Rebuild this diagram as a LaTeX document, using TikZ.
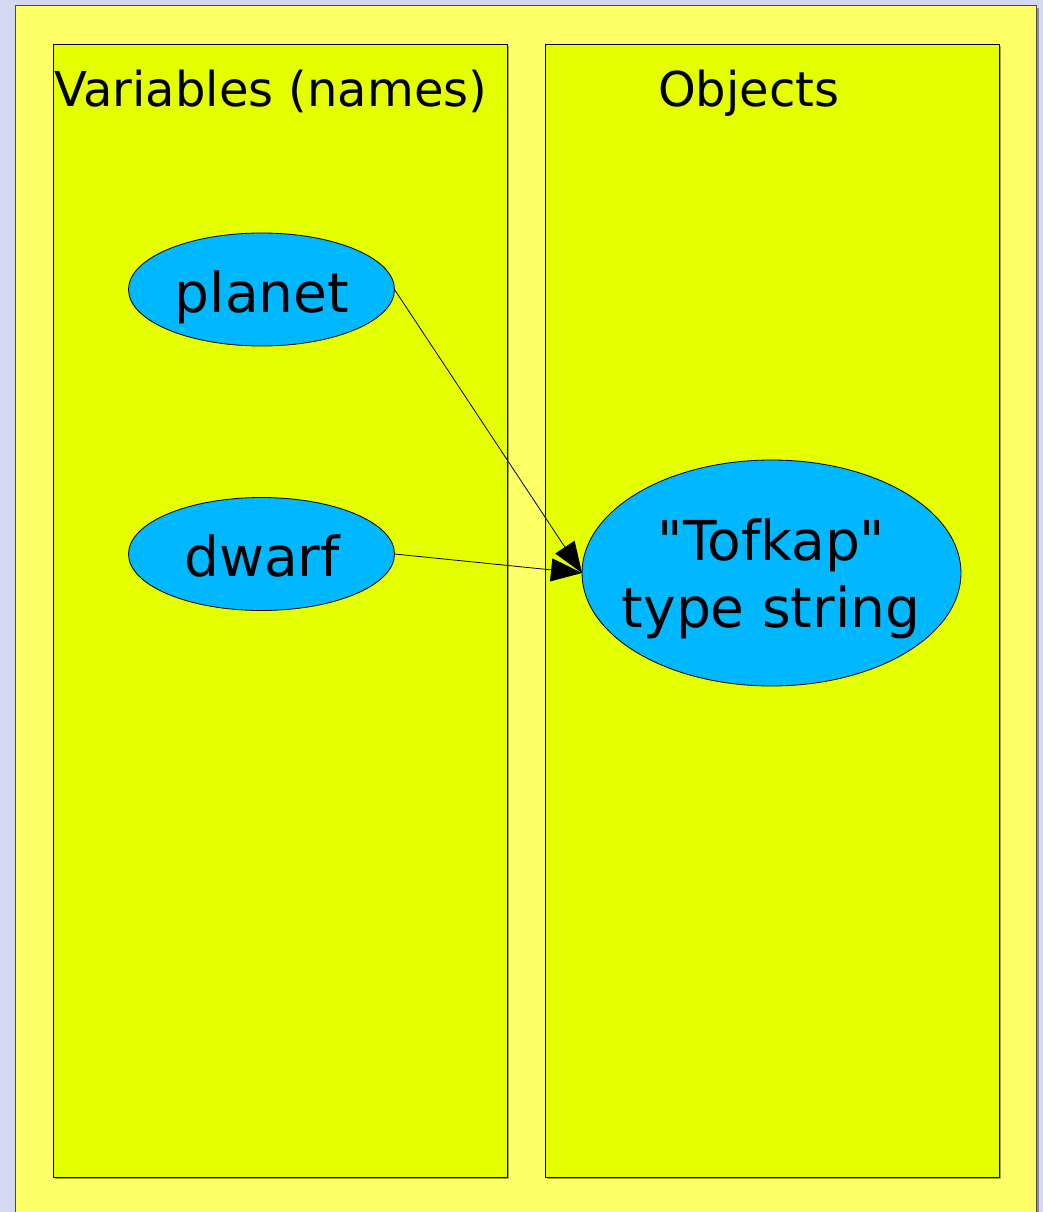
\documentclass[tikz,border=0pt]{standalone}
\usepackage{fontspec}
\setmainfont{DejaVu Sans}
\usetikzlibrary{shapes.geometric,arrows.meta}
\definecolor{pagebg}{RGB}{212,216,240}
\definecolor{sheet}{RGB}{255,255,102}
\definecolor{panel}{RGB}{228,255,0}
\definecolor{bubble}{RGB}{0,184,255}
\tikzset{
  sheetbox/.style={draw=black!70, fill=sheet, line width=1pt},
  panelbox/.style={rectangle, draw=black, fill=panel, line width=0.8pt,
    anchor=north west, inner sep=0pt, outer sep=0pt},
  shade box/.style={fill=black, fill opacity=0.35, draw=none},
  bubblenode/.style={ellipse, draw=black, fill=bubble, line width=0.8pt,
    inner sep=0pt, outer sep=0pt},
  coltitle/.style={font=\fontsize{48}{56}\selectfont, anchor=base west, inner sep=0pt},
  bubbletext/.style={font=\fontsize{55}{64}\selectfont, anchor=base, inner sep=0pt},
  refarrow/.style={-{Triangle[length=31pt,width=23pt]}, line width=0.8pt}
}
\begin{document}
\begin{tikzpicture}[x=1pt,y=-1pt]
  \useasboundingbox (0,0) rectangle (1043,1212);
  \fill[pagebg] (0,0) rectangle (1043,1212);

  % sheet with a light drop shadow
  \fill[shade box] (17.5,8) rectangle (1038.5,1216);
  \draw[sheetbox] (15.5,6) rectangle (1036.5,1216);

  % the two columns
  \fill[shade box] (55,46) rectangle (509,1179);
  \fill[shade box] (547,46) rectangle (1001,1179);
  \node[panelbox, minimum width=454pt, minimum height=1133pt] (vars) at (53,44) {};
  \node[panelbox, minimum width=454pt, minimum height=1133pt] (objs) at (545,44) {};

  \node[coltitle] (varstitle) at (54,107) {Variables (names)};
  \node[coltitle] (objstitle) at (658,107) {Objects};

  % names
  \node[bubblenode, minimum width=266pt, minimum height=113pt] (planet) at (261.5,289.5) {};
  \node[bubbletext] (planettext) at (262,312) {planet};
  \node[bubblenode, minimum width=266pt, minimum height=113pt] (dwarf) at (261.5,554) {};
  \node[bubbletext] (dwarftext) at (262,576.5) {dwarf};

  % the object they both refer to
  \node[bubblenode, minimum width=379pt, minimum height=226pt] (obj) at (771.5,573) {};
  \node[bubbletext] (objname) at (771.5,560) {\textquotedbl Tofkap\textquotedbl};
  \node[bubbletext] (objtype) at (771,627) {type string};

  \draw[refarrow] (planet.east) -- (obj.west);
  \draw[refarrow] (dwarf.east) -- (obj.west);
\end{tikzpicture}
\end{document}
